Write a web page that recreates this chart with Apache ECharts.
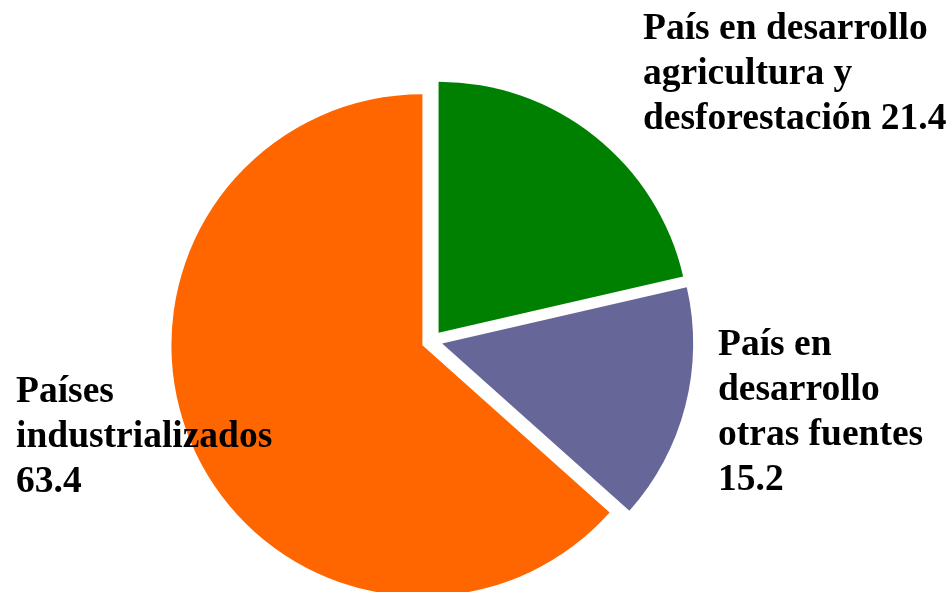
<!DOCTYPE html>
<html>
<head>
<meta charset="utf-8">
<script src="https://cdn.jsdelivr.net/npm/echarts@6/dist/echarts.min.js"></script>
<style>html,body{margin:0;padding:0;background:#fff}#c{width:951px;height:592px}</style>
</head>
<body>
<div id="c"></div>
<script>
// Data
var categories = ['País en desarrollo\nagricultura y\ndesforestación', 'País en\ndesarrollo\notras fuentes', 'Países\nindustrializados'];
var values = [21.4, 15.2, 63.4];
var valueSeparators = [' ', '\n', '\n'];
var colors = ['#008000', '#666699', '#FF6600'];
// Label anchor positions (px, top-left of label block)
var labelX = [643, 718, 16];
var labelY = [7, 323, 370];

var chart = echarts.init(document.getElementById('c'), null, {renderer: 'canvas'});
var data = categories.map(function (c, i) {
  return {
    name: c,
    value: values[i],
    selected: true,
    itemStyle: {color: colors[i]}
  };
});
var labels = categories.map(function (c, i) {
  return {
    type: 'text',
    left: labelX[i],
    top: labelY[i],
    z: 100,
    zlevel: 1,
    silent: true,
    style: {
      text: c + valueSeparators[i] + values[i],
      font: 'bold 37.5px "Liberation Serif", "Times New Roman", serif',
      lineHeight: 45,
      fill: '#000000',
      align: 'left'
    }
  };
});
chart.setOption({
  animation: false,
  backgroundColor: '#ffffff',
  graphic: labels,
  series: [{
    type: 'pie',
    center: [432, 341],
    radius: 251,
    startAngle: 90,
    clockwise: true,
    selectedMode: 'multiple',
    selectedOffset: 10.5,
    avoidLabelOverlap: false,
    itemStyle: {borderWidth: 0},
    emphasis: {disabled: true},
    label: {show: false},
    labelLine: {show: false},
    data: data
  }]
});
</script>
</body>
</html>
